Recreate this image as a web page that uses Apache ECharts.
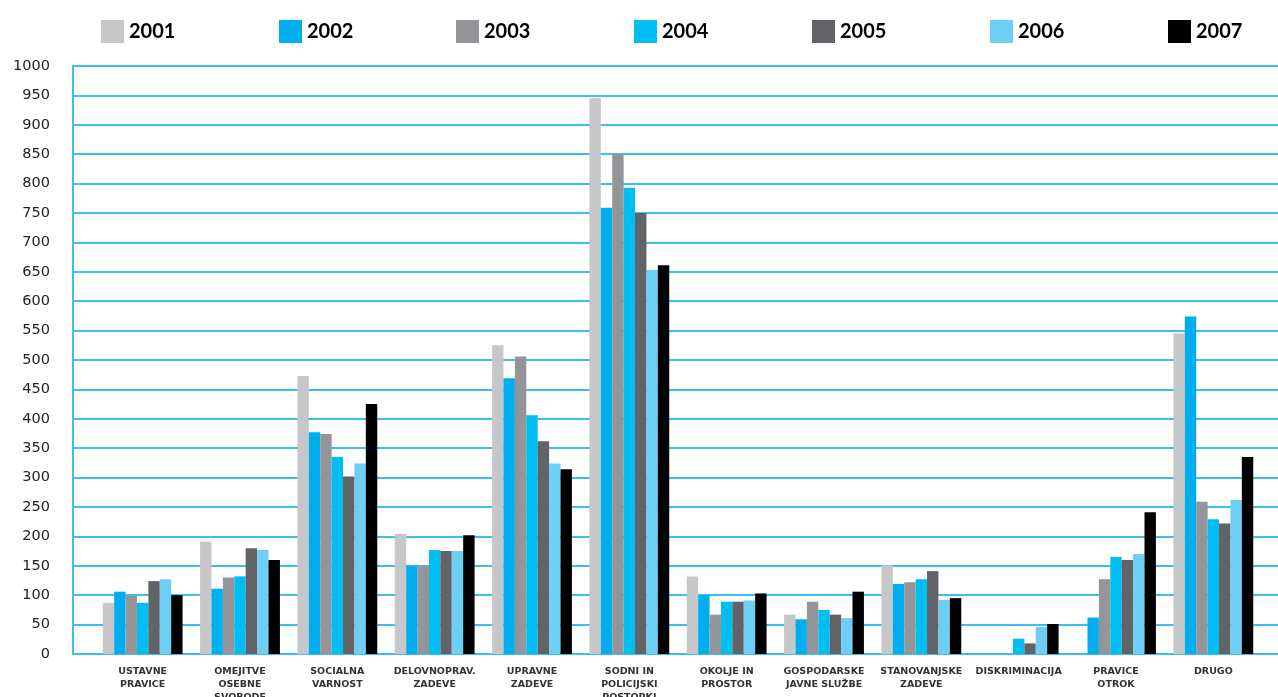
<!DOCTYPE html>
<html><head><meta charset="utf-8">
<script src="https://cdn.jsdelivr.net/npm/echarts@6/dist/echarts.min.js"></script>
<style>html,body{margin:0;padding:0;background:#fff}#c{width:1278px;height:697px}</style>
</head><body><div id="c"></div>
<script>
const categories = ["USTAVNE\nPRAVICE","OMEJITVE\nOSEBNE\nSVOBODE","SOCIALNA\nVARNOST","DELOVNOPRAV.\nZADEVE","UPRAVNE\nZADEVE","SODNI IN\nPOLICIJSKI\nPOSTOPKI","OKOLJE IN\nPROSTOR","GOSPODARSKE\nJAVNE SLUŽBE","STANOVANJSKE\nZADEVE","DISKRIMINACIJA","PRAVICE\nOTROK","DRUGO"];
const years = ["2001","2002","2003","2004","2005","2006","2007"];
const v2001 = [87, 191, 473, 204, 525, 945, 132, 67, 151, null, null, 545];
const v2002 = [106, 111, 377, 150, 469, 759, 100, 59, 119, null, 62, 574];
const v2003 = [99, 130, 374, 150, 506, 850, 67, 89, 122, null, 127, 259];
const v2004 = [87, 132, 335, 177, 406, 793, 89, 75, 127, 26, 165, 229];
const v2005 = [124, 180, 302, 175, 362, 750, 89, 67, 141, 18, 160, 222];
const v2006 = [127, 177, 324, 175, 324, 653, 91, 61, 92, 46, 170, 262];
const v2007 = [100, 160, 425, 202, 314, 661, 103, 106, 95, 51, 241, 335];
const yTicks = {min: 0, max: 1000, interval: 50};

const seriesValues = [v2001, v2002, v2003, v2004, v2005, v2006, v2007];
const colors = ["#C6C7C9","#00AEEF","#939598","#00BEF2","#626366","#6DCFF6","#000000"];
const blue = "#3DBDF0";
const legendLeft = [96, 274, 451, 629, 807, 985, 1163];

const chart = echarts.init(document.getElementById('c'));
chart.setOption({
  animation: false,
  color: colors,
  legend: years.map((y, i) => ({
    top: 15, left: legendLeft[i], itemWidth: 23, itemHeight: 23,
    icon: 'rect',
    textStyle: {fontFamily: 'Lato', fontWeight: 'bold', fontSize: 20, color: '#000'},
    data: [y]
  })),
  grid: [
    {left: 73, right: 0, top: 66, bottom: 43, outerBoundsMode: 'none', containLabel: false},
    {left: 94, right: 16, top: 66, bottom: 43, outerBoundsMode: 'none', containLabel: false}
  ],
  xAxis: [
    {gridIndex: 0, type: 'value', min: 0, max: 1, show: false},
    {gridIndex: 1, type: 'category', data: categories,
     axisLine: {show: false}, axisTick: {show: false},
     axisLabel: {interval: 0, margin: 11, fontFamily: 'DejaVu Sans', fontWeight: 'bold', fontSize: 9.5, lineHeight: 13, color: '#333'}}
  ],
  yAxis: [
    {gridIndex: 0, type: 'value', min: yTicks.min, max: yTicks.max, interval: yTicks.interval,
     axisLine: {show: true, lineStyle: {color: blue, width: 2}},
     axisTick: {show: false},
     axisLabel: {margin: 23, fontFamily: 'DejaVu Sans', fontSize: 14.5, color: '#222', formatter: v => String(v)},
     splitLine: {show: true, lineStyle: {color: blue, width: 2}}},
    {gridIndex: 1, type: 'value', min: yTicks.min, max: yTicks.max, interval: yTicks.interval, show: false, splitLine: {show: false}}
  ],
  series: years.map((y, i) => ({
    name: y, type: 'bar', xAxisIndex: 1, yAxisIndex: 1,
    data: seriesValues[i], barGap: '0%', barCategoryGap: '18%',
    itemStyle: {color: colors[i]}
  }))
});
</script></body></html>
